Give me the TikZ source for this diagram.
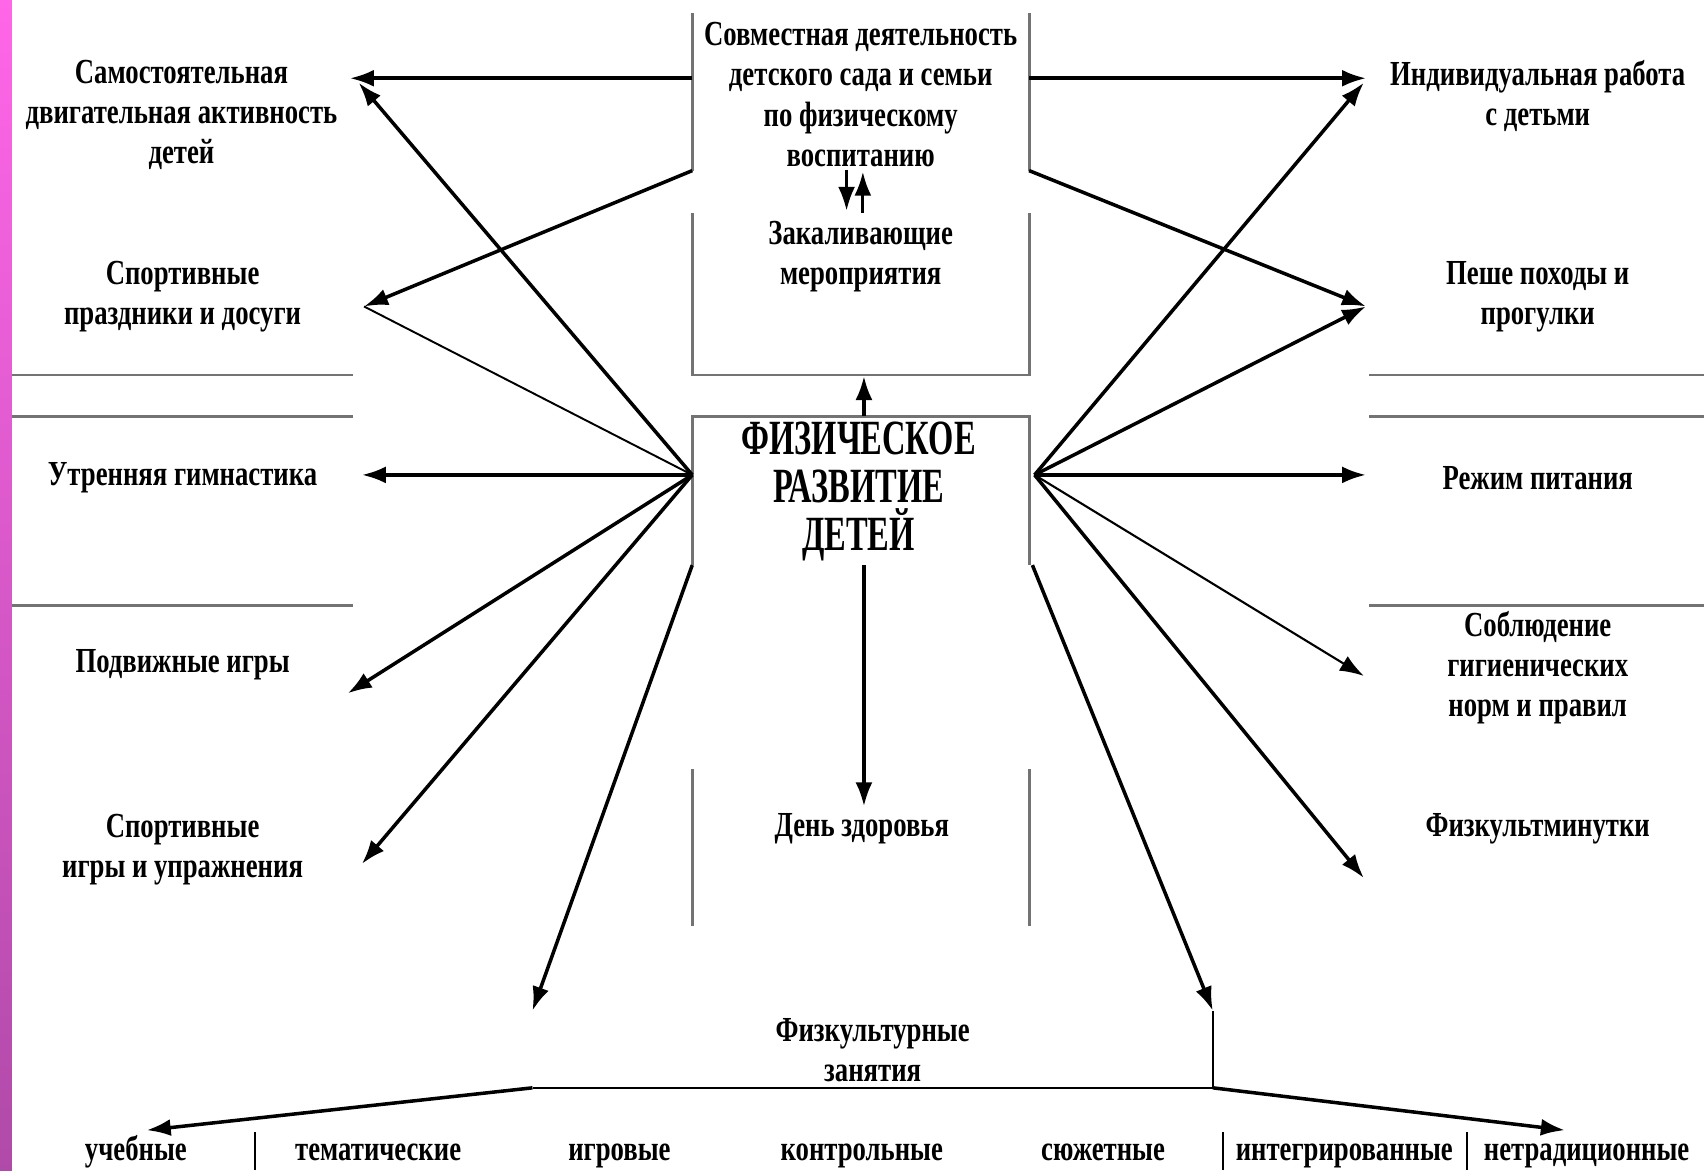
\documentclass[tikz,border=0pt]{standalone}
\usepackage{fontspec}
\setmainfont{Liberation Serif}[FakeStretch=0.76]
\newfontfamily\titlefont{Liberation Serif}[FakeStretch=0.66]
\usetikzlibrary{arrows.meta}

\definecolor{stripetop}{RGB}{255,102,232}
\definecolor{stripebot}{RGB}{176,74,168}

\tikzset{
    lbl/.style = {align = center, inner sep = 0pt, font = \fontsize{10}{11.4}\selectfont\bfseries},
    ttl/.style = {align = center, inner sep = 0pt, font = \titlefont\fontsize{14}{13.7}\selectfont\bfseries},
    kind/.style = {lbl, anchor = base},
    frame/.style = {draw = black!55, line width = 0.8pt},
    arr/.style = {-{Latex[length = 2.4mm, width = 1.7mm]}, line width = 1pt},
    lean/.style = {line width = 0.55pt},
}

\begin{document}
\begin{tikzpicture}[x = {(0.010867cm, 0)}, y = {(0, -0.010867cm)}]
    \useasboundingbox (0, 0) rectangle (1568, 1077);
    \shade[top color = stripetop, bottom color = stripebot] (0, 0) rectangle (11, 1077);

    % left column
    \node[lbl] (samost) at (167, 106) {Самостоятельная\\двигательная активность\\детей};
    \node[lbl] (sportpr) at (168, 273) {Спортивные\\праздники и досуги};
    \node[lbl] (utren) at (168, 440) {Утренняя гимнастика};
    \node[lbl] (podv) at (168, 612) {Подвижные игры};
    \node[lbl] (sportig) at (168, 782) {Спортивные\\игры и упражнения};

    % right column
    \node[lbl] (indiv) at (1415, 88) {Индивидуальная работа\\с детьми};
    \node[lbl] (peshe) at (1415, 273) {Пеше походы и\\прогулки};
    \node[lbl] (rezhim) at (1415, 440) {Режим питания};
    \node[lbl] (soblyud) at (1415, 614) {Соблюдение\\гигиенических\\норм и правил};
    \node[lbl] (fizmin) at (1415, 763) {Физкультминутки};

    % centre
    \node[lbl] (sovm) at (792, 87) {Совместная деятельность\\детского сада и семьи\\по физическому\\воспитанию};
    \node[lbl] (zakal) at (792, 236) {Закаливающие\\мероприятия};
    \node[ttl] (fizrazv) at (790, 452) {ФИЗИЧЕСКОЕ\\РАЗВИТИЕ\\ДЕТЕЙ};
    \node[lbl] (den) at (793, 763) {День здоровья};
    \node[lbl] (zanyat) at (803, 966) {Физкультурные\\занятия};

    % kinds of lessons
    \node[kind] (uch) at (125, 1068) {учебные};
    \node[kind] (tem) at (348, 1068) {тематические};
    \node[kind] (igr) at (570, 1068) {игровые};
    \node[kind] (kontr) at (793, 1068) {контрольные};
    \node[kind] (syuzh) at (1015, 1068) {сюжетные};
    \node[kind] (integr) at (1237, 1068) {интегрированные};
    \node[kind] (netrad) at (1460, 1068) {нетрадиционные};

    % frames and rules
    \draw[frame] (637, 12) -- (637, 157) (637, 196) -- (637, 345) -- (947, 345) -- (947, 196) (947, 157) -- (947, 12);
    \draw[frame] (637, 520) -- (637, 383) -- (947, 383) -- (947, 520);
    \draw[frame] (637, 708) -- (637, 852) (947, 708) -- (947, 852);
    \draw[frame] (11, 345) -- (325, 345) (11, 383) -- (325, 383) (11, 557) -- (325, 557);
    \draw[frame] (1260, 345) -- (1568, 345) (1260, 383) -- (1568, 383) (1260, 557) -- (1568, 557);
    \draw[lean] (235, 1042) -- (235, 1077) (1125, 1042) -- (1125, 1077) (1350, 1042) -- (1350, 1077);

    \coordinate (sovmL) at (637, 72);
    \coordinate (sovmR) at (947, 72);
    \coordinate (sovmLL) at (637, 157);
    \coordinate (sovmRL) at (947, 157);
    \coordinate (lfan) at (637, 437);
    \coordinate (rfan) at (952, 437);
    \coordinate (lbase) at (637, 520);
    \coordinate (rbase) at (950, 520);
    \coordinate (zanL) at (490, 1001);
    \coordinate (zanR) at (1116, 1001);

    \coordinate (tSamost) at (322, 72);
    \coordinate (tSamost2) at (330, 76);
    \coordinate (tSportpr) at (335, 282);
    \coordinate (tUtren) at (333, 437);
    \coordinate (tPodv) at (320, 638);
    \coordinate (tSportig) at (333, 795);
    \coordinate (tIndiv) at (1257, 72);
    \coordinate (tIndiv2) at (1255, 76);
    \coordinate (tPeshe) at (1257, 282);
    \coordinate (tRezhim) at (1257, 437);
    \coordinate (tSoblyud) at (1255, 622);
    \coordinate (tFizmin) at (1255, 808);
    \coordinate (tLowL) at (490, 930);
    \coordinate (tLowR) at (1116, 930);

    % from the joint work box
    \draw[arr] (sovmL) -- (tSamost);
    \draw[arr] (sovmR) -- (tIndiv);
    \draw[arr] (sovmLL) -- (tSportpr);
    \draw[arr] (sovmRL) -- (tPeshe);
    \draw[arr, line width = 0.9pt] (779, 156) -- (779, 194);
    \draw[arr, line width = 0.9pt] (794, 196) -- (794, 158);

    % from the central box
    \draw[arr] (795, 383) -- (795, 346);
    \draw[arr] (795, 520) -- (795, 742);
    \draw[arr] (lfan) -- (tSamost2);
    \draw[lean] (lfan) -- (tSportpr);
    \draw[arr] (lfan) -- (tUtren);
    \draw[arr] (lfan) -- (tPodv);
    \draw[arr] (lfan) -- (tSportig);
    \draw[arr] (lbase) -- (tLowL);
    \draw[arr] (rfan) -- (tIndiv2);
    \draw[arr] (rfan) -- (tPeshe);
    \draw[arr] (rfan) -- (tRezhim);
    \draw[arr, line width = 0.6pt] (rfan) -- (tSoblyud);
    \draw[arr] (rfan) -- (tFizmin);
    \draw[arr] (rbase) -- (tLowR);

    % lessons
    \draw[lean] (tLowR) -- (zanR);
    \draw[line width = 0.7pt] (zanL) -- (zanR);
    \draw[arr] (zanL) -- (135, 1040);
    \draw[arr] (zanR) -- (1440, 1040);
\end{tikzpicture}
\end{document}
